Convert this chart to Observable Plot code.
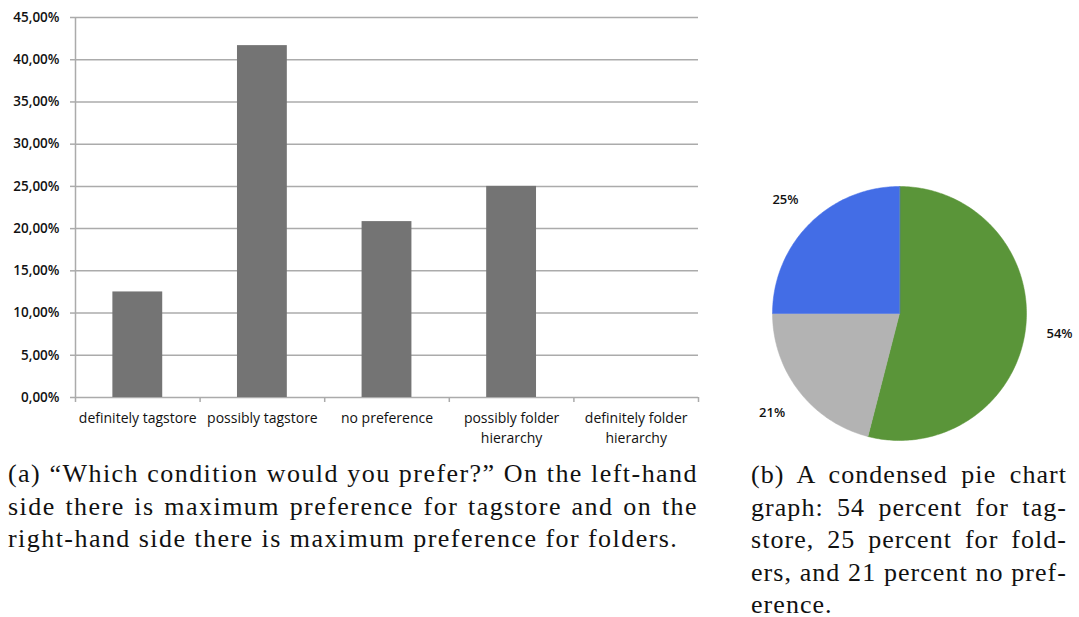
<!DOCTYPE html>
<html><head><meta charset="utf-8">
<script src="https://cdn.jsdelivr.net/npm/d3@7"></script>
<script src="https://cdn.jsdelivr.net/npm/@observablehq/plot@0.6"></script>
<style>
body{margin:0;background:#fff;width:1079px;height:617px;position:relative;overflow:hidden}
#bar{position:absolute;left:0;top:0}
#pie{position:absolute;left:735px;top:175px}
.cap{position:absolute;font-family:"Liberation Serif",serif;font-size:26px;line-height:32.5px;color:#111}
.cap div{text-align:justify;text-align-last:justify;white-space:nowrap}
.cap div.last{text-align:left;text-align-last:left}
#capA{left:8px;top:458px;width:690px;letter-spacing:1.45px}
#capB{left:751px;top:459px;width:316px;letter-spacing:1.05px}
</style></head>
<body>
<div id="bar"></div>
<div id="pie"></div>
<div class="cap" id="capA"></div>
<div class="cap" id="capB"></div>
<script>
const categories = ["definitely tagstore","possibly tagstore","no preference","possibly folder hierarchy","definitely folder hierarchy"];
const tickLabels = ["definitely tagstore","possibly tagstore","no preference","possibly folder\nhierarchy","definitely folder\nhierarchy"];
const shares = [0.125, 0.4167, 0.2083, 0.25, 0];
const yTicks = [0,0.05,0.10,0.15,0.20,0.25,0.30,0.35,0.40,0.45];

const pieLabels = ["tagstore","no preference","folders"];
const pieValues = [54, 21, 25];
const pieText = ["54%","21%","25%"];
const pieColors = ["#5a9539","#b3b3b3","#436de6"];

const captionA = ["(a) “Which condition would you prefer?” On the left-hand",
  "side there is maximum preference for tagstore and on the",
  "right-hand side there is maximum preference for folders."];
const captionB = ["(b) A condensed pie chart","graph: 54 percent for tag-","store, 25 percent for fold-","ers, and 21 percent no pref-","erence."];

const grid = "#ababab";
const rows = categories.map((c,i)=>({c, i, v: shares[i], label: tickLabels[i]}));
const fmt = d => (d*100).toFixed(2).replace(".", ",") + "%";

const bar = Plot.plot({
  width:710, height:455, marginLeft:75, marginRight:12, marginTop:17, marginBottom:58,
  x:{domain:[0,categories.length], axis:null},
  y:{domain:[0,0.45], axis:null},
  style:{fontFamily:"'Open Sans', sans-serif", fontSize:"13px", color:"#111", background:"#fff"},
  marks:[
    Plot.gridY(yTicks, {stroke:grid, strokeOpacity:1, strokeWidth:1.5}),
    Plot.axisY(yTicks, {label:null, tickFormat: fmt, tickSize:5, stroke:grid, strokeWidth:1.5, tickPadding:11, fill:"#111", fontSize:13.5, fontWeight:600}),
    Plot.ruleX([0], {stroke:grid, strokeWidth:1.5}),
    Plot.rectY(rows, {x1: d=>d.i+0.3, x2: d=>d.i+0.7, y1: 0, y2: "v", fill:"#747474"}),
    Plot.axisX(d3.range(0, categories.length+1), {label:null, tickFormat: ()=>"", tickSize:5, stroke:grid, strokeWidth:1.5}),
    Plot.text(rows, {x: d=>d.i+0.5, y: 0, text:"label", dy: 12, lineAnchor:"top", lineHeight:1.4, fontSize:14, fill:"#111"})
  ]
});
document.getElementById("bar").append(bar);

const arcs = d3.pie().sort(null)(pieValues);
const pts = [];
arcs.forEach((a,k)=>{
  const name = pieLabels[k];
  pts.push({slice:name, x:0, y:0});
  const n = Math.max(2, Math.ceil((a.endAngle-a.startAngle)/(Math.PI/180)));
  for(let j=0;j<=n;j++){
    const t = a.startAngle + (a.endAngle-a.startAngle)*j/n;
    pts.push({slice:name, x:Math.sin(t), y:Math.cos(t)});
  }
});
const labs = arcs.map((a,k)=>{const m=(a.startAngle+a.endAngle)/2; return {x:1.27*Math.sin(m), y:1.27*Math.cos(m), t:pieText[k]};});

const pie = Plot.plot({
  width:344, height:280, margin:0,
  x:{domain:[-1,1], range:[37,291], axis:null},
  y:{domain:[-1,1], range:[265,11], axis:null},
  color:{domain:pieLabels, range:pieColors},
  style:{fontFamily:"'Open Sans', sans-serif", background:"#fff"},
  marks:[
    Plot.line(pts, {x:"x", y:"y", z:"slice", fill:"slice", stroke:"slice", strokeWidth:0.5, curve:"linear-closed"}),
    Plot.text(labs, {x:"x", y:"y", text:"t", fontSize:13, fontWeight:600, fill:"#111"})
  ]
});
document.getElementById("pie").append(pie);

function cap(id, lines){
  const el = document.getElementById(id);
  lines.forEach((l,i)=>{const d=document.createElement("div"); d.textContent=l; if(i===lines.length-1) d.className="last"; el.append(d);});
}
cap("capA", captionA);
cap("capB", captionB);
</script>
</body></html>
